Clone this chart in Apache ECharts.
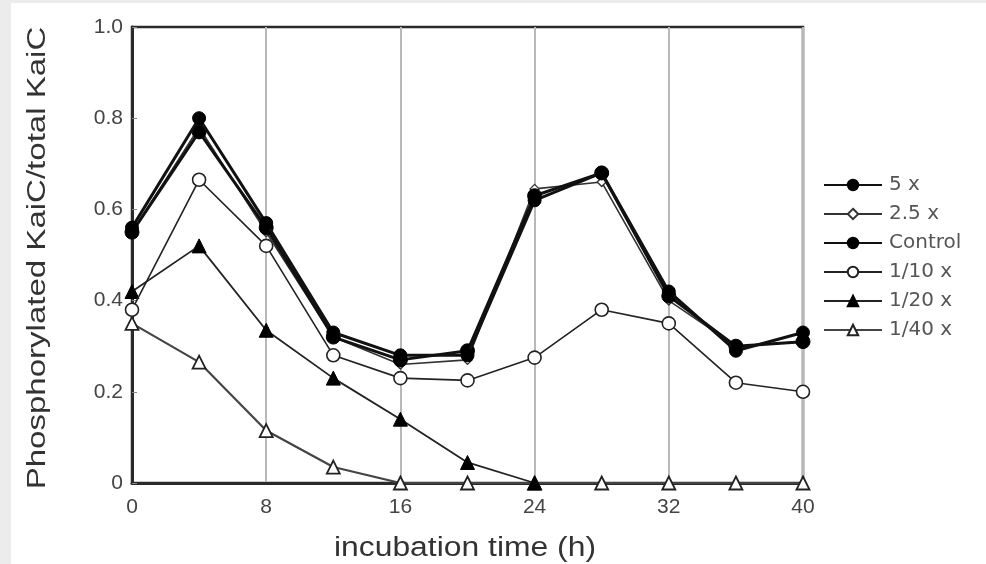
<!DOCTYPE html>
<html>
<head>
<meta charset="utf-8">
<script src="https://cdn.jsdelivr.net/npm/echarts@6/dist/echarts.min.js"></script>
<style>
html,body{margin:0;padding:0;background:#ececec;}
#chart{width:986px;height:564px;}
</style>
</head>
<body>
<div id="chart"></div>
<script>
// Incubation time points (h)
const hours = [0, 4, 8, 12, 16, 20, 24, 28, 32, 36, 40];
const xTicks = [0, 8, 16, 24, 32, 40];
const yTicks = [0, 0.2, 0.4, 0.6, 0.8, 1.0];

// Fraction of phosphorylated KaiC at each time point
const kaiA5x      = [0.56, 0.80, 0.57, 0.33, 0.28, 0.28, 0.62, 0.68, 0.42, 0.29, 0.33];
const kaiA2_5x    = [0.55, 0.78, 0.55, 0.32, 0.26, 0.27, 0.645, 0.66, 0.40, 0.30, 0.31];
const control     = [0.55, 0.77, 0.56, 0.32, 0.27, 0.29, 0.63, 0.68, 0.41, 0.30, 0.31];
const kaiA1_10x   = [0.38, 0.665, 0.52, 0.28, 0.23, 0.225, 0.275, 0.38, 0.35, 0.22, 0.20];
const kaiA1_20x   = [0.42, 0.52, 0.335, 0.23, 0.14, 0.045, 0, null, null, null, null];
const kaiA1_40x   = [0.35, 0.265, 0.115, 0.035, 0, 0, 0, 0, 0, 0, 0];

const names = ['5 x', '2.5 x', 'Control', '1/10 x', '1/20 x', '1/40 x'];
const xTitle = 'incubation time (h)';
const yTitle = 'Phosphorylated KaiC/total KaiC';

const FONT = 'Liberation Sans, Arial, sans-serif';
const WIDE_FONT = 'DejaVu Sans, Liberation Sans, sans-serif';

function pairs(vals) {
  return hours.map((h, i) => [h, vals[i]]);
}

const chart = echarts.init(document.getElementById('chart'), null, {renderer: 'canvas'});

function lineSeries(name, vals, opt) {
  return Object.assign({
    name: name,
    type: 'line',
    data: pairs(vals),
    connectNulls: false,
    animation: false,
    showAllSymbol: true
  }, opt);
}

const series = [
  lineSeries(names[5], kaiA1_40x, {
    symbol: 'triangle', symbolSize: 13,
    itemStyle: {color: '#ffffff', borderColor: '#222', borderWidth: 1.8},
    lineStyle: {color: '#444', width: 2.2}, z: 2
  }),
  lineSeries(names[4], kaiA1_20x, {
    symbol: 'triangle', symbolSize: 14,
    itemStyle: {color: '#000', borderColor: '#000', borderWidth: 1},
    lineStyle: {color: '#222', width: 1.8}, z: 3
  }),
  lineSeries(names[3], kaiA1_10x, {
    symbol: 'circle', symbolSize: 13,
    itemStyle: {color: '#ffffff', borderColor: '#222', borderWidth: 1.6},
    lineStyle: {color: '#222', width: 1.6}, z: 4
  }),
  lineSeries(names[1], kaiA2_5x, {
    symbol: 'diamond', symbolSize: 9,
    itemStyle: {color: '#ffffff', borderColor: '#333', borderWidth: 1.4},
    lineStyle: {color: '#333', width: 1.6}, z: 5
  }),
  lineSeries(names[2], control, {
    symbol: 'circle', symbolSize: 14,
    itemStyle: {color: '#000', borderColor: '#000', borderWidth: 1},
    lineStyle: {color: '#111', width: 3}, z: 6
  }),
  lineSeries(names[0], kaiA5x, {
    symbol: 'circle', symbolSize: 13,
    itemStyle: {color: '#000', borderColor: '#000', borderWidth: 1},
    lineStyle: {color: '#111', width: 3}, z: 7
  })
];

chart.setOption({
  backgroundColor: '#ececec',
  animation: false,
  graphic: [
    {type: 'rect', left: 11, top: 3, shape: {width: 975, height: 561}, style: {fill: '#ffffff'}, z: -10, silent: true},
    // axis titles, drawn slightly widened
    {type: 'text', x: 465, y: 549, scaleX: 1.18, silent: true,
      style: {text: xTitle, font: '27px ' + FONT, fill: '#333', align: 'center', verticalAlign: 'middle'}},
    {type: 'text', x: 38, y: 258, rotation: Math.PI / 2, scaleX: 1.27, silent: true,
      style: {text: yTitle, font: '26px ' + FONT, fill: '#333', align: 'center', verticalAlign: 'middle'}}
  ],
  grid: {
    left: 132, right: 183, top: 27, bottom: 81,
    show: true, borderColor: '#2a2a2a', borderWidth: 2.5, backgroundColor: 'transparent'
  },
  legend: {
    data: names,
    orient: 'vertical',
    left: 818, top: 170,
    itemWidth: 58, itemHeight: 13,
    itemGap: 9,
    textStyle: {fontFamily: WIDE_FONT, fontSize: 20, color: '#555', padding: [0, 0, 0, 2]},
    inactiveColor: '#ccc'
  },
  xAxis: {
    type: 'value', min: 0, max: 40, interval: 8,
    axisLine: {show: true, lineStyle: {color: '#2a2a2a', width: 3}},
    axisTick: {show: false},
    axisLabel: {fontFamily: FONT, fontSize: 21, color: '#444', margin: 14,
      formatter: v => xTicks.indexOf(v) >= 0 ? String(v) : ''},
    splitLine: {show: true, lineStyle: {color: '#b8b8b8', width: 2}}
  },
  yAxis: {
    type: 'value', min: 0, max: 1, interval: 0.2,
    axisLine: {show: true, lineStyle: {color: '#2a2a2a', width: 3}},
    axisTick: {show: true, inside: true, length: 5, lineStyle: {color: '#888', width: 1}},
    axisLabel: {fontFamily: FONT, fontSize: 21, color: '#444', margin: 9,
      formatter: v => {
        const t = yTicks.find(y => Math.abs(y - v) < 1e-9);
        if (t === undefined) return '';
        return t === 0 ? '0' : t.toFixed(1);
      }},
    splitLine: {show: false}
  },
  series: series
});
</script>
</body>
</html>
